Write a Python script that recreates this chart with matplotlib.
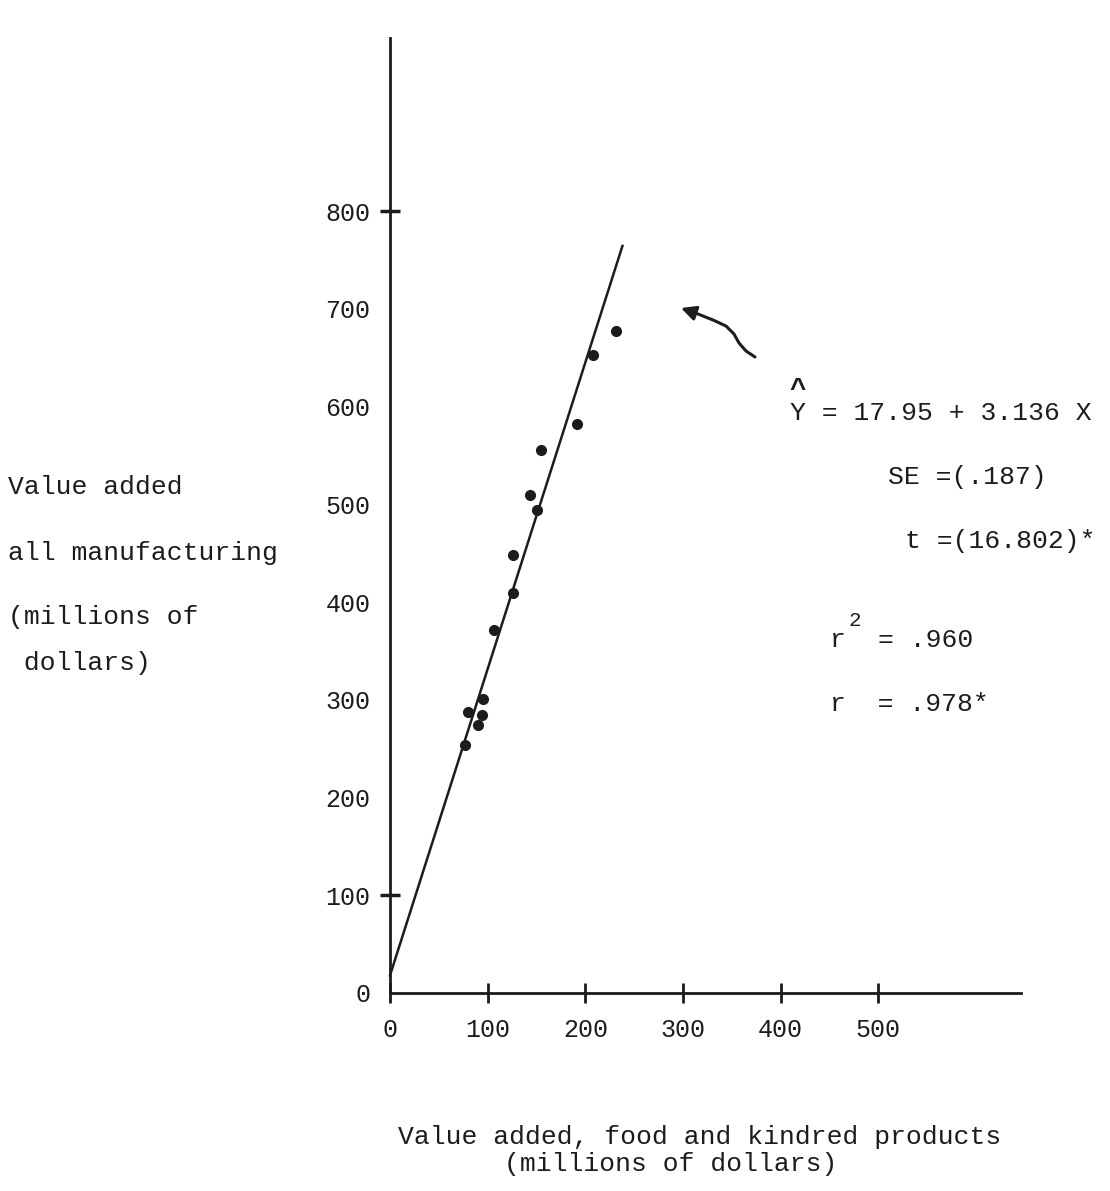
"""Scatter of value added: all manufacturing vs food and kindred products."""

import matplotlib
matplotlib.use("Agg")
import matplotlib.pyplot as plt
from matplotlib.patches import FancyArrowPatch
from matplotlib.path import Path

# ---- data (millions of dollars) ---------------------------------------- #
food_value = [77, 80, 94, 90, 95, 106, 126, 126, 143, 150, 155, 191, 208, 231]
manuf_value = [254, 287, 284, 274, 301, 371, 409, 448, 509, 494, 556, 582, 653, 677]

intercept = 17.95
slope = 3.136
line_x = [0, 238]

x_ticks = [0, 100, 200, 300, 400, 500]
y_ticks = [0, 100, 200, 300, 400, 500, 600, 700, 800]

FONT = "Liberation Mono"
INK = "#1c1c1c"
W, H = 1110, 1191

fig = plt.figure(figsize=(W / 100, H / 100), dpi=100)
fig.patch.set_facecolor("white")


def fx(px):
    return px / W


def fy(py):
    return 1 - py / H


# axes placed so that x=0 sits at px 390 and y=0 at px 993
ax = fig.add_axes([fx(390), fy(993), (1021 - 390) / W, (993 - 38) / H])
ax.set_xlim(0, 646)
ax.set_ylim(0, 977)
for s in ("top", "right"):
    ax.spines[s].set_visible(False)
for s in ("left", "bottom"):
    ax.spines[s].set_linewidth(2.0)
    ax.spines[s].set_color(INK)

ax.set_xticks(x_ticks)
ax.set_xticklabels([str(v) for v in x_ticks], fontfamily=FONT, fontsize=18, color=INK)
ax.set_yticks(y_ticks)
ax.set_yticklabels([str(v) for v in y_ticks], fontfamily=FONT, fontsize=18, color=INK)
ax.tick_params(axis="x", direction="inout", length=14, width=2, color=INK, pad=11)
ax.tick_params(axis="y", length=0, pad=14)
# only two of the y ticks carry a mark in the original
ax.yaxis.remove_overlapping_locs = False
ax.set_yticks([100, 800], minor=True)
ax.tick_params(axis="y", which="minor", direction="inout", length=14, width=2.5, color=INK)
ax.tick_params(axis="x", which="minor", length=0)

# regression line and points
line_y = [intercept + slope * v for v in line_x]
ax.plot(line_x, line_y, color=INK, lw=1.8, clip_on=False)
ax.plot(food_value, manuf_value, "o", color=INK, ms=7, clip_on=False)


# ---- texts ------------------------------------------------------------- #
def txt(px, py, s, fs=19, ha="left", **kw):
    fig.text(fx(px), fy(py), s, fontfamily=FONT, fontsize=fs, color=INK,
             ha=ha, va="center", **kw)


txt(8, 487, "Value added")
txt(8, 553, "all manufacturing")
txt(8, 617, "(millions of")
txt(8, 663, " dollars)")

txt(790, 413, "Y = 17.95 + 3.136 X")
txt(798, 390, "^", fs=20, ha="center", weight="bold")
txt(888, 477, "SE =(.187)")
txt(905, 541, "t =(16.802)*")
txt(830, 640, "r")
txt(848, 621, "2", fs=15)
txt(878, 640, "= .960")
txt(830, 704, "r  = .978*")

txt(700, 1137, "Value added, food and kindred products", ha="center")
txt(671, 1164, "(millions of dollars)", ha="center")

# wavy pointer arrow
pts = [(755, 357), (746, 351), (739, 343), (734, 334), (726, 326),
       (713, 320), (698, 314), (681, 308)]
path = Path([(fx(x), fy(y)) for x, y in pts])
fig.patches.append(FancyArrowPatch(path=path, arrowstyle="-|>", mutation_scale=22,
                                   lw=2.2, color=INK, transform=fig.transFigure,
                                   figure=fig))

fig.savefig("out.png", dpi=100, facecolor="white")
